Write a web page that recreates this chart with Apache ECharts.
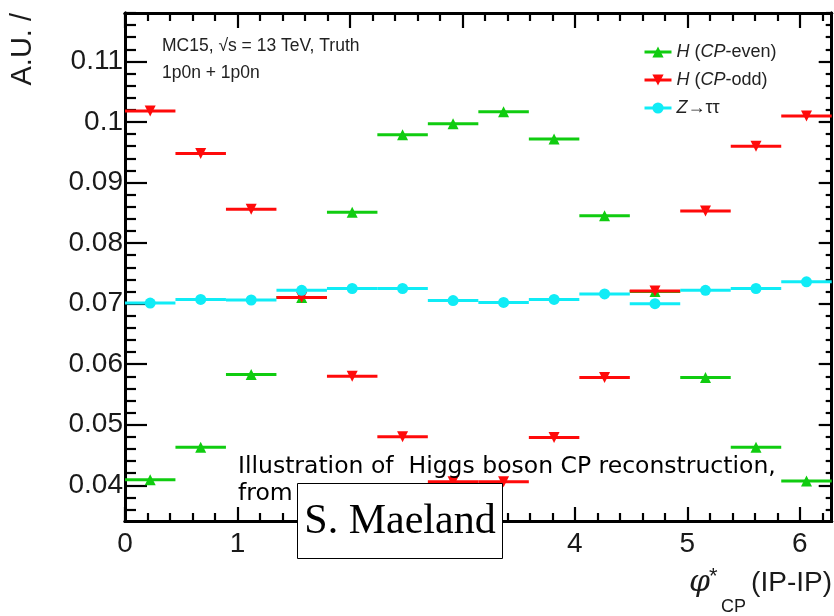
<!DOCTYPE html>
<html><head><meta charset="utf-8">
<script src="https://cdn.jsdelivr.net/npm/echarts@6/dist/echarts.min.js"></script>
<style>html,body{margin:0;padding:0;background:#fff}#c{width:834px;height:616px}</style>
</head><body><div id="c"></div>
<script>
// 14 equal bins over [0, 2pi]
const binCenters = [0.224, 0.673, 1.122, 1.571, 2.020, 2.468, 2.917, 3.366, 3.815, 4.264, 4.712, 5.161, 5.610, 6.059];
const binHalfWidth = 0.2244;
const cpEven  = [0.0409, 0.0463, 0.0583, 0.0710, 0.0851, 0.0979, 0.0997, 0.1017, 0.0972, 0.0845, 0.0720, 0.0578, 0.0463, 0.0407];
const cpOdd   = [0.1018, 0.0948, 0.0856, 0.0710, 0.0580, 0.0480, 0.0406, 0.0406, 0.0479, 0.0578, 0.0721, 0.0853, 0.0960, 0.1010];
const ztautau = [0.0701, 0.0707, 0.0706, 0.0722, 0.0725, 0.0725, 0.0705, 0.0702, 0.0707, 0.0716, 0.0700, 0.0722, 0.0725, 0.0736];
const seriesNames = ['H (CP-even)', 'H (CP-odd)', 'Z\u2192\u03c4\u03c4'];
const legendRich = ['{i|H} ({i|CP}-even)', '{i|H} ({i|CP}-odd)', '{i|Z}\u2192\u03c4\u03c4'];
const xTicks = [0, 1, 2, 3, 4, 5, 6];
const yTicks = [0.04, 0.05, 0.06, 0.07, 0.08, 0.09, 0.1, 0.11];

const xMin = 0, xMax = 6.2832, yMin = 0.0341, yMax = 0.118;
const xMinor = [];
for (let i = 1; i <= 31; i++) { if (i % 5) xMinor.push(+(i * 0.2).toFixed(3)); }
const yMinor = [];
for (let i = 18; i <= 59; i++) { if (i % 5) yMinor.push(+(i * 0.002).toFixed(4)); }

const colors = ['#10cc10', '#ff0a0a', '#10ecf6'];
const symbols = ['triangle', 'triangle', 'circle'];
const rotates = [0, 180, 0];
const sizes = [11, 11, 11];
const allData = [cpEven, cpOdd, ztautau];

const labelFont = {fontSize: 28, fontFamily: 'Liberation Sans', color: '#1a1a1a'};

function axisCommon(len, vals) {
  return {
    axisLine: {show: true, onZero: false, lineStyle: {color: '#000', width: 3}},
    axisTick: {show: true, inside: true, length: len, customValues: vals, lineStyle: {color: '#000', width: 2.2}},
    splitLine: {show: false}, minorTick: {show: false}
  };
}
function xAx(pos, len, vals, labels) {
  return Object.assign({type: 'value', position: pos, min: xMin, max: xMax,
    axisLabel: labels ? Object.assign({show: true, customValues: xTicks, margin: 9}, labelFont) : {show: false}
  }, axisCommon(len, vals));
}
function yAx(pos, len, vals, labels) {
  return Object.assign({type: 'value', position: pos, min: yMin, max: yMax,
    axisLabel: labels ? Object.assign({show: true, customValues: yTicks, margin: 2, formatter: v => String(+v.toFixed(3))}, labelFont) : {show: false}
  }, axisCommon(len, vals));
}

const series = [];
allData.forEach((vals, k) => {
  series.push({
    type: 'custom', name: seriesNames[k] + ' bins', z: 3 + k * 2, clip: true,
    xAxisIndex: 0, yAxisIndex: 0,
    data: vals.map((v, i) => [binCenters[i] - binHalfWidth, binCenters[i] + binHalfWidth, v]),
    renderItem: (params, api) => {
      const y = api.value(2);
      const p0 = api.coord([api.value(0), y]);
      const p1 = api.coord([api.value(1), y]);
      return {type: 'line', shape: {x1: p0[0], y1: p0[1], x2: p1[0], y2: p1[1]},
        style: {stroke: colors[k], lineWidth: 3}};
    },
    silent: true
  });
  series.push({
    type: 'line', name: seriesNames[k], z: 4 + k * 2,
    xAxisIndex: 0, yAxisIndex: 0,
    data: vals.map((v, i) => [binCenters[i], v]),
    symbol: symbols[k], symbolRotate: rotates[k], symbolSize: sizes[k], showSymbol: true, showAllSymbol: true,
    lineStyle: {opacity: 0, width: 0}, itemStyle: {color: colors[k], opacity: 1},
    animation: false
  });
});

const chart = echarts.init(document.getElementById('c'), null, {renderer: 'canvas'});
chart.setOption({
  animation: false,
  backgroundColor: '#fff',
  grid: {left: 125, right: 2.3, top: 13, bottom: 95, containLabel: false, outerBoundsMode: 'none'},
  xAxis: [xAx('bottom', 14, xTicks, true), xAx('bottom', 8, xMinor, false), xAx('top', 15, xTicks, false), xAx('top', 8, xMinor, false)],
  yAxis: [yAx('left', 22, yTicks, true), yAx('left', 11, yMinor, false), yAx('right', 13, yTicks, false), yAx('right', 6, yMinor, false)],
  legend: {
    orient: 'vertical', left: 643, top: 43, padding: 0, itemWidth: 27, itemHeight: 14, itemGap: 10,
    selectedMode: false,
    data: seriesNames.map((n, k) => ({name: n, lineStyle: {opacity: 1, width: 3, color: colors[k]}, itemStyle: {color: colors[k]}})),
    formatter: name => legendRich[seriesNames.indexOf(name)],
    textStyle: {fontSize: 18, fontFamily: 'Liberation Sans', color: '#222',
      rich: {i: {fontSize: 18, fontFamily: 'Liberation Sans', fontStyle: 'italic', color: '#222'}}}
  },
  series: series,
  graphic: [
    {type: 'text', x: 162, y: 46, z: 20, style: {text: 'MC15, \u221as = 13 TeV, Truth', font: '17.5px "Liberation Sans"', fill: '#222', verticalAlign: 'middle', textVerticalAlign: 'middle'}},
    {type: 'text', x: 162, y: 73, z: 20, style: {text: '1p0n + 1p0n', font: '17.5px "Liberation Sans"', fill: '#222', verticalAlign: 'middle', textVerticalAlign: 'middle'}},
    {type: 'text', x: 23, y: 13, rotation: Math.PI / 2, z: 20, style: {text: 'A.U. /', font: '29px "Liberation Sans"', fill: '#1a1a1a', align: 'right', textAlign: 'right', verticalAlign: 'middle', textVerticalAlign: 'middle'}},
    {type: 'text', x: 689, y: 583, z: 20, style: {text: '\u03c6', font: 'italic 30px "DejaVu Serif"', fill: '#1a1a1a', verticalAlign: 'middle', textVerticalAlign: 'middle'}},
    {type: 'text', x: 709, y: 577, z: 20, style: {text: '*', font: '22px "Liberation Sans"', fill: '#1a1a1a', verticalAlign: 'middle', textVerticalAlign: 'middle'}},
    {type: 'text', x: 721, y: 607, z: 20, style: {text: 'CP', font: '18px "Liberation Sans"', fill: '#1a1a1a', verticalAlign: 'middle', textVerticalAlign: 'middle'}},
    {type: 'text', x: 832, y: 583, z: 20, style: {text: '(IP-IP)', font: '28px "Liberation Sans"', fill: '#1a1a1a', align: 'right', textAlign: 'right', verticalAlign: 'middle', textVerticalAlign: 'middle'}},
    {type: 'text', x: 238, y: 467, z: 20, style: {text: 'Illustration of  Higgs boson CP reconstruction,', font: '23.5px "DejaVu Sans"', fill: '#000', verticalAlign: 'middle', textVerticalAlign: 'middle'}},
    {type: 'text', x: 238, y: 494, z: 20, style: {text: 'from', font: '23.5px "DejaVu Sans"', fill: '#000', verticalAlign: 'middle', textVerticalAlign: 'middle'}},
    {type: 'rect', z: 30, shape: {x: 297.5, y: 483.5, width: 205, height: 75}, style: {fill: '#fff', stroke: '#000', lineWidth: 1}},
    {type: 'text', x: 400, y: 522, z: 31, style: {text: 'S. Maeland', font: '42px "Liberation Serif"', fill: '#000', align: 'center', textAlign: 'center', verticalAlign: 'middle', textVerticalAlign: 'middle'}}
  ]
});
</script></body></html>
